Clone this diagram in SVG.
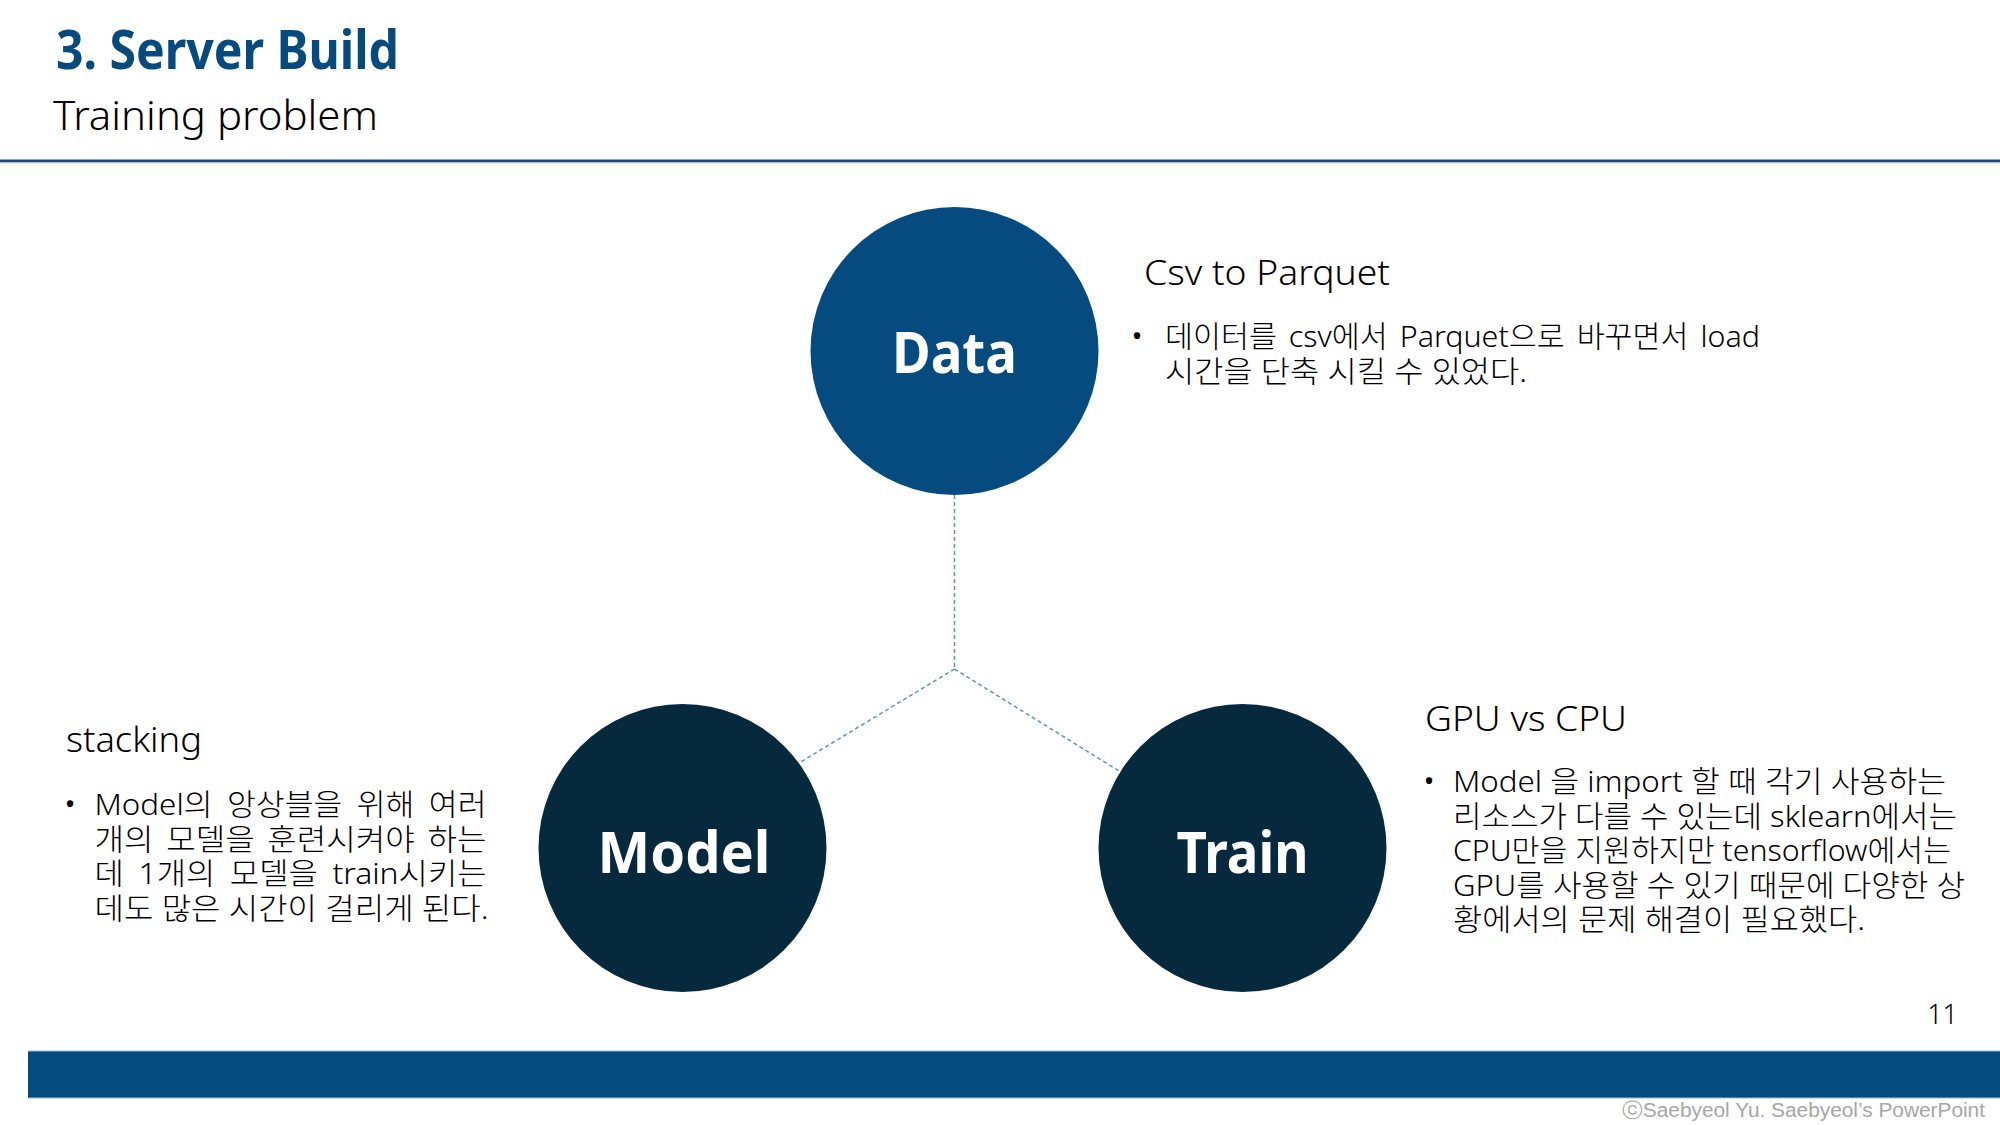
<svg xmlns="http://www.w3.org/2000/svg" width="2000" height="1125" viewBox="0 0 2000 1125">
  <style>
    .title { font-family: 'Noto Sans', 'Open Sans', sans-serif; font-weight: 700; font-size: 54px; fill: #064A7E; }
    .subtitle { font-family: 'Noto Sans', 'Open Sans', sans-serif; font-weight: 300; font-size: 41px; fill: #000000; }
    .head { font-family: 'Noto Sans', 'Noto Sans CJK KR', sans-serif; font-weight: 300; font-size: 35px; fill: #000000; }
    .body { font-family: 'Noto Sans', 'Noto Sans CJK KR', sans-serif; font-weight: 300; font-size: 30px; fill: #000000; }
    .bullet { font-family: 'Noto Sans', sans-serif; font-size: 28px; fill: #000000; text-anchor: middle; }
    .label { font-family: 'Noto Sans', 'Open Sans', sans-serif; font-weight: 700; font-size: 58px; fill: #FFFFFF; text-anchor: middle; }
    .link { fill: none; stroke: #5B95BE; stroke-width: 1.5; stroke-dasharray: 4 3; }
    .hub-primary { fill: #054B80; }
    .hub-dark { fill: #07293D; }
    .pageno { font-family: 'Noto Sans', sans-serif; font-weight: 300; font-size: 27px; fill: #000000; text-anchor: end; }
    .credit { font-family: 'Liberation Sans', 'DejaVu Sans', sans-serif; font-size: 20px; fill: #A6A6A6; }
  </style>

  <!-- page background -->
  <rect x="0" y="0" width="2000" height="1125" fill="#FFFFFF"/>

  <!-- header -->
  <g id="header">
    <text class="title" x="56" y="69" textLength="343" lengthAdjust="spacingAndGlyphs">3. Server Build</text>
    <text class="subtitle" x="53" y="130" textLength="325" lengthAdjust="spacingAndGlyphs">Training problem</text>
    <rect x="0" y="159.5" width="2000" height="3" fill="#1B4B75"/>
    <rect x="0" y="162.5" width="2000" height="1" fill="#BFD6EA"/>
  </g>

  <!-- connectors: trunk from Data down to the junction, then branches -->
  <g id="connectors">
    <line class="link" x1="954.5" y1="495" x2="954.5" y2="669"/>
    <line class="link" x1="954.5" y1="669" x2="799" y2="763"/>
    <line class="link" x1="954.5" y1="669" x2="1119" y2="771"/>
  </g>

  <!-- nodes -->
  <g id="node-data">
    <circle class="hub-primary" cx="954.5" cy="351" r="144"/>
    <text class="label" x="954.5" y="373" textLength="125" lengthAdjust="spacingAndGlyphs">Data</text>
  </g>
  <g id="node-model">
    <circle class="hub-dark" cx="682.5" cy="848" r="144"/>
    <text class="label" x="684" y="873" textLength="173" lengthAdjust="spacingAndGlyphs">Model</text>
  </g>
  <g id="node-train">
    <circle class="hub-dark" cx="1242.5" cy="848" r="144"/>
    <text class="label" x="1242.5" y="873" textLength="132" lengthAdjust="spacingAndGlyphs">Train</text>
  </g>

  <!-- note beside Data -->
  <g id="note-data">
    <text class="head" x="1144" y="285" textLength="246" lengthAdjust="spacingAndGlyphs">Csv to Parquet</text>
    <text class="bullet" x="1137" y="346">•</text>
    <text class="body">
      <tspan x="1165" y="347" textLength="595" lengthAdjust="spacingAndGlyphs" word-spacing="4">데이터를 csv에서 Parquet으로 바꾸면서 load</tspan>
      <tspan x="1165" y="381.5" textLength="362" lengthAdjust="spacingAndGlyphs">시간을 단축 시킬 수 있었다.</tspan>
    </text>
  </g>

  <!-- note beside Model -->
  <g id="note-model">
    <text class="head" x="66" y="752" textLength="136" lengthAdjust="spacingAndGlyphs">stacking</text>
    <text class="bullet" x="70" y="814">•</text>
    <text class="body">
      <tspan x="94.5" y="815" textLength="392" lengthAdjust="spacingAndGlyphs" word-spacing="6">Model의 앙상블을 위해 여러</tspan>
      <tspan x="94.5" y="849.5" textLength="392" lengthAdjust="spacingAndGlyphs" word-spacing="4">개의 모델을 훈련시켜야 하는</tspan>
      <tspan x="94.5" y="884" textLength="392" lengthAdjust="spacingAndGlyphs" word-spacing="6">데 1개의 모델을 train시키는</tspan>
      <tspan x="94.5" y="918.5" textLength="394" lengthAdjust="spacingAndGlyphs">데도 많은 시간이 걸리게 된다.</tspan>
    </text>
  </g>

  <!-- note beside Train -->
  <g id="note-train">
    <text class="head" x="1425" y="731" textLength="202" lengthAdjust="spacingAndGlyphs">GPU vs CPU</text>
    <text class="bullet" x="1429" y="791">•</text>
    <text class="body">
      <tspan x="1453" y="792" textLength="493" lengthAdjust="spacingAndGlyphs">Model 을 import 할 때 각기 사용하는</tspan>
      <tspan x="1453" y="826.5" textLength="504" lengthAdjust="spacingAndGlyphs">리소스가 다를 수 있는데 sklearn에서는</tspan>
      <tspan x="1453" y="861" textLength="498" lengthAdjust="spacingAndGlyphs">CPU만을 지원하지만 tensorflow에서는</tspan>
      <tspan x="1453" y="895.5" textLength="512" lengthAdjust="spacingAndGlyphs">GPU를 사용할 수 있기 때문에 다양한 상</tspan>
      <tspan x="1453" y="930" textLength="412" lengthAdjust="spacingAndGlyphs">황에서의 문제 해결이 필요했다.</tspan>
    </text>
  </g>

  <!-- footer -->
  <g id="footer">
    <text class="pageno" x="1958" y="1024">11</text>
    <rect x="28" y="1051" width="1972" height="47" fill="#044B7F"/>
    <rect x="28" y="1050.5" width="1972" height="1" fill="#9BBCD8"/>
    <rect x="28" y="1097.5" width="1972" height="1" fill="#9BBCD8"/>
    <text class="credit" x="1622" y="1117" textLength="363" lengthAdjust="spacingAndGlyphs">ⓒSaebyeol Yu. Saebyeol’s PowerPoint</text>
  </g>
</svg>
